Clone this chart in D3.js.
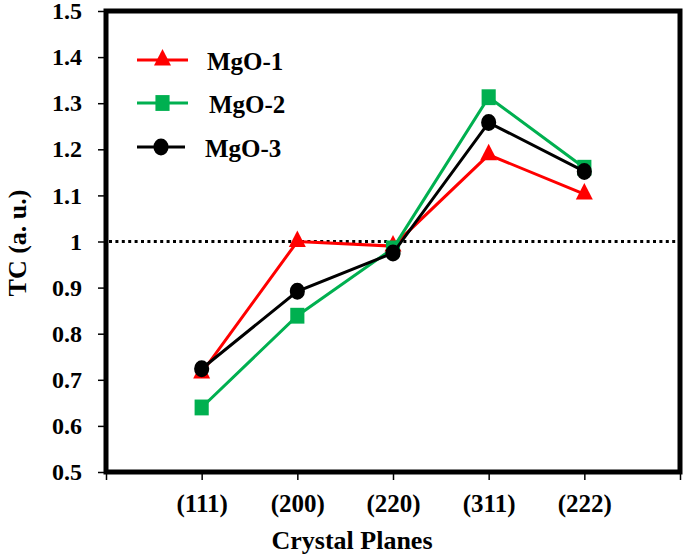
<!DOCTYPE html>
<html><head><meta charset="utf-8">
<script src="https://cdn.jsdelivr.net/npm/d3@7"></script>
<style>body{margin:0;background:#fff}svg{display:block}</style>
</head><body>
<svg id="c" width="685" height="556"></svg>
<script>
const categories = ["(111)", "(200)", "(220)", "(311)", "(222)"];
const mgo1 = [0.715, 1.0, 0.99, 1.188, 1.103];
const mgo2 = [0.64, 0.839, 0.985, 1.313, 1.16];
const mgo3 = [0.724, 0.892, 0.975, 1.258, 1.152];
const yTicks = [0.5, 0.6, 0.7, 0.8, 0.9, 1.0, 1.1, 1.2, 1.3, 1.4, 1.5];
const seriesNames = ["MgO-1", "MgO-2", "MgO-3"];
const seriesColors = ["#FF0000", "#00B050", "#000000"];
const seriesShapes = [d3.symbolTriangle, d3.symbolSquare, d3.symbolCircle];
const referenceValue = 1.0;

const svg = d3.select("#c");
const font = "'Liberation Serif','Times New Roman',serif";
const L = 106, R = 680, T = 11, B = 472;
const x = d3.scaleLinear().domain([0, categories.length + 1]).range([L, R]);
const y = d3.scaleLinear().domain([0.5, 1.5]).range([B, T]);

// y axis
const ya = svg.append("g").attr("transform", `translate(${L},0)`)
  .attr("font-family", font).attr("font-size", 24).attr("font-weight", "bold")
  .call(d3.axisLeft(y).tickValues(yTicks).tickSize(8).tickPadding(16)
    .tickFormat(d => d === 1 ? "1" : d3.format(".1f")(d)));
ya.select(".domain").remove();
ya.selectAll("line").attr("stroke", "#000").attr("stroke-width", 1.5);
ya.selectAll("text").style("font-family", font).style("font-weight", "bold")
  .style("font-size", "24px").attr("fill", "#000");

// x axis
const xa = svg.append("g").attr("transform", `translate(0,${B})`)
  .call(d3.axisBottom(x).tickValues(d3.range(0, categories.length + 2)).tickSize(8).tickPadding(14)
    .tickFormat(i => (i >= 1 && i <= categories.length) ? categories[i - 1] : ""));
xa.select(".domain").remove();
xa.selectAll("line").attr("stroke", "#000").attr("stroke-width", 1.5);
xa.selectAll("text").style("font-family", font).style("font-weight", "bold")
  .style("font-size", "25px").attr("fill", "#000");

// frame
svg.append("rect").attr("x", L).attr("y", T).attr("width", R - L).attr("height", B - T)
  .attr("fill", "none").attr("stroke", "#000").attr("stroke-width", 5);

// reference dotted line
svg.append("line").attr("x1", L + 3).attr("x2", R - 3)
  .attr("y1", y(referenceValue)).attr("y2", y(referenceValue))
  .attr("stroke", "#000").attr("stroke-width", 3).attr("stroke-dasharray", "3,3.4");

// series
const data = [mgo1, mgo2, mgo3];
const sizes = [125, 200, 180];
const line = d3.line().x((d, i) => x(i + 1)).y(d => y(d));
data.forEach((vals, s) => {
  const g = svg.append("g");
  g.append("path").attr("d", line(vals)).attr("fill", "none")
    .attr("stroke", seriesColors[s]).attr("stroke-width", 3);
  g.selectAll("path.m").data(vals).enter().append("path").attr("class", "m")
    .attr("d", d3.symbol().type(seriesShapes[s]).size(sizes[s]))
    .attr("transform", (d, i) => `translate(${x(i + 1)},${y(d)}) scale(1,1.12)`)
    .attr("fill", seriesColors[s]);
});

// legend
const legY = [60, 103, 147];
const legTextX = [207, 209, 205];
seriesNames.forEach((n, s) => {
  const g = svg.append("g");
  const x2 = s === 2 ? 185 : 188;
  g.append("line").attr("x1", 137).attr("x2", x2).attr("y1", legY[s]).attr("y2", legY[s])
    .attr("stroke", seriesColors[s]).attr("stroke-width", 3);
  g.append("path").attr("d", d3.symbol().type(seriesShapes[s]).size(sizes[s]))
    .attr("transform", `translate(${(137 + x2) / 2},${legY[s]}) scale(1,1.12)`).attr("fill", seriesColors[s]);
  g.append("text").attr("x", legTextX[s]).attr("y", legY[s] + 10).text(n)
    .attr("font-family", font).attr("font-weight", "bold").attr("font-size", 25).attr("fill", "#000");
});

// axis titles
svg.append("text").attr("x", 352).attr("y", 549).attr("text-anchor", "middle")
  .text("Crystal Planes").attr("font-family", font).attr("font-weight", "bold").attr("font-size", 26);
svg.append("text").attr("transform", "translate(26,243) rotate(-90)").attr("text-anchor", "middle")
  .text("TC (a. u.)").attr("font-family", font).attr("font-weight", "bold").attr("font-size", 26);
</script>
</body></html>
